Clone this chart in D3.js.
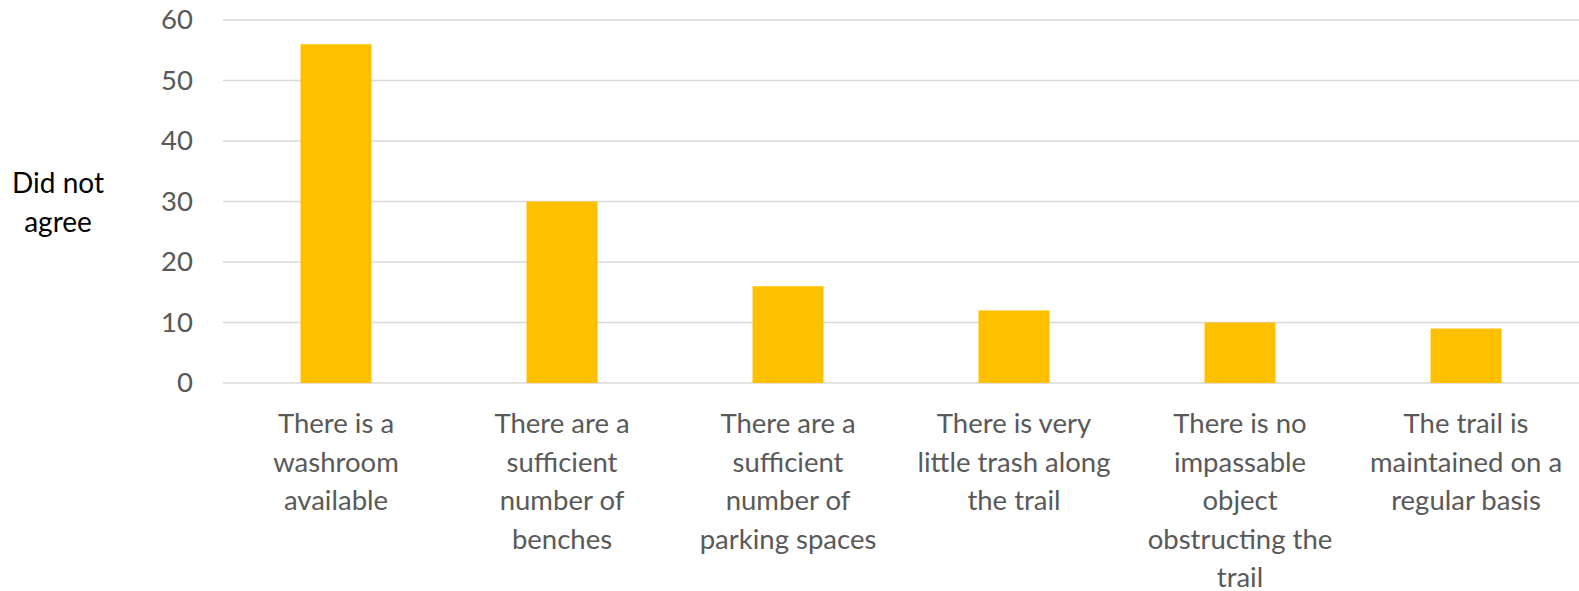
<!DOCTYPE html>
<html>
<head>
<meta charset="utf-8">
<script src="https://cdn.jsdelivr.net/npm/d3@7"></script>
<style>
  html, body { margin: 0; padding: 0; background: #fff; }
  svg { display: block; }
  text { font-family: Lato, "Open Sans", sans-serif; }
</style>
</head>
<body>
<svg id="chart" width="1579" height="591"></svg>
<script>
// Survey results: number of respondents who did not agree with each statement
const categories = [
  "There is a\nwashroom\navailable",
  "There are a\nsufficient\nnumber of\nbenches",
  "There are a\nsufficient\nnumber of\nparking spaces",
  "There is very\nlittle trash along\nthe trail",
  "There is no\nimpassable\nobject\nobstructing the\ntrail",
  "The trail is\nmaintained on a\nregular basis"
];
const values = [56, 30, 16, 12, 10, 9];
const yTicks = [0, 10, 20, 30, 40, 50, 60];
const yTitle = ["Did not", "agree"];

const svg = d3.select("#chart");
const margin = { left: 223, right: 0 };
const W = 1579;
const labelSize = "27.5px";

const x = d3.scaleBand()
  .domain(categories)
  .range([margin.left, W - margin.right])
  .paddingInner(0.686)
  .paddingOuter(0.343);

const y = d3.scaleLinear()
  .domain([0, 60])
  .range([383, 20]);

// horizontal gridlines
svg.append("g")
  .selectAll("line")
  .data(yTicks)
  .join("line")
  .attr("x1", margin.left)
  .attr("x2", W)
  .attr("y1", d => y(d))
  .attr("y2", d => y(d))
  .attr("stroke", "#d9d9d9")
  .attr("stroke-width", 1.5);

// y tick labels
const yAxis = d3.axisLeft(y).tickValues(yTicks).tickSize(0).tickPadding(0);
const gy = svg.append("g")
  .attr("transform", "translate(193,0)")
  .call(yAxis);
gy.select(".domain").remove();
gy.selectAll("text")
  .attr("fill", "#595959")
  .style("font-size", labelSize)
  .style("font-family", "Lato, sans-serif");

// bars
svg.append("g")
  .selectAll("rect")
  .data(values)
  .join("rect")
  .attr("x", (d, i) => x(categories[i]))
  .attr("width", x.bandwidth())
  .attr("y", d => y(d))
  .attr("height", d => y(0) - y(d))
  .attr("fill", "#FFC000");

// category labels (multi-line)
const labels = svg.append("g")
  .selectAll("text")
  .data(categories)
  .join("text")
  .attr("text-anchor", "middle")
  .attr("fill", "#595959")
  .style("font-size", labelSize)
  .attr("x", d => x(d) + x.bandwidth() / 2)
  .attr("y", 433);
labels.selectAll("tspan")
  .data(d => d.split("\n"))
  .join("tspan")
  .attr("x", function () { return d3.select(this.parentNode).attr("x"); })
  .attr("dy", (d, i) => i === 0 ? 0 : 38.5)
  .text(d => d);

// y-axis title
svg.append("text")
  .attr("text-anchor", "middle")
  .attr("fill", "#000")
  .style("font-size", "28px")
  .attr("x", 58)
  .attr("y", 193)
  .selectAll("tspan")
  .data(yTitle)
  .join("tspan")
  .attr("x", 58)
  .attr("dy", (d, i) => i === 0 ? 0 : 39)
  .text(d => d);
</script>
</body>
</html>
